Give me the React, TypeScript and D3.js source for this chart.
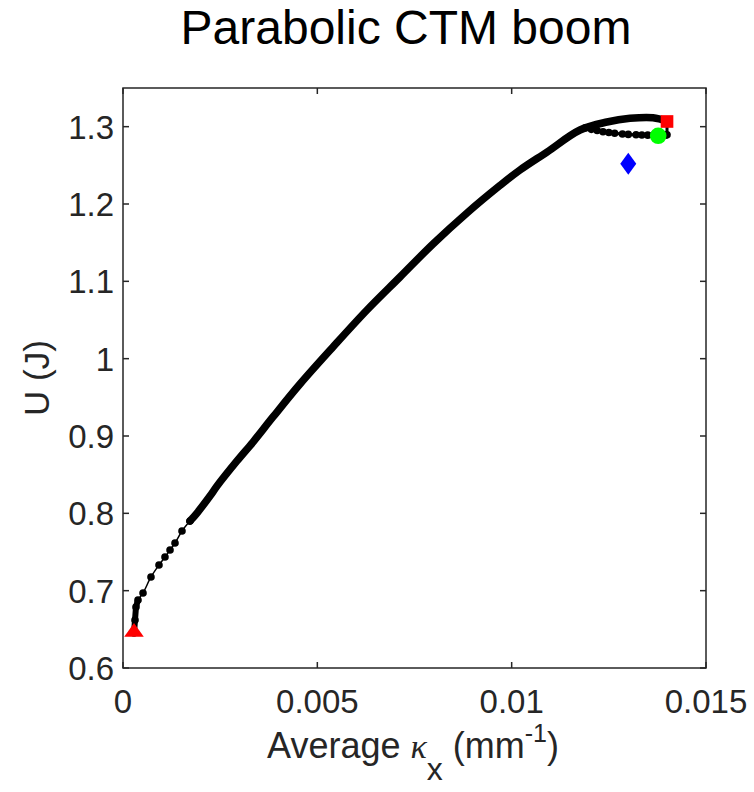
import React from "react";
import * as d3 from "d3";

// Loading path: average curvature kx (1/mm) vs strain energy U (J)
const kxPath = [0.000283, 0.000309, 0.000334, 0.000386, 0.000515, 0.00072, 0.000926, 0.00108, 0.00121, 0.001338, 0.001518, 0.001724, 0.001904, 0.002238, 0.002419, 0.002933, 0.003345, 0.003859, 0.004554, 0.005403, 0.006278, 0.007127, 0.007976, 0.008851, 0.0097, 0.010214, 0.010909, 0.011758, 0.012453, 0.013045, 0.013636, 0.013997];
const UPath = [0.6453, 0.662, 0.6789, 0.688, 0.697, 0.7177, 0.7332, 0.7435, 0.7526, 0.7616, 0.7772, 0.790, 0.8004, 0.8224, 0.8353, 0.8677, 0.8922, 0.9246, 0.9672, 1.0151, 1.0629, 1.1056, 1.1483, 1.1884, 1.2240, 1.2440, 1.2672, 1.2957, 1.3060, 1.3108, 1.3116, 1.3073];

// Return branch (lower) after the peak
const kxReturn = [0.013997, 0.013997, 0.01396, 0.01385, 0.01365, 0.01350, 0.01335, 0.01320, 0.01300, 0.01285, 0.01265, 0.01250, 0.01235, 0.01220, 0.01205, 0.01190];
const UReturn = [1.3073, 1.2895, 1.2890, 1.2888, 1.2890, 1.2890, 1.2893, 1.2895, 1.2900, 1.2905, 1.2915, 1.2925, 1.2935, 1.2950, 1.2965, 1.2985];

// Special points
const startPoint = [0.000283, 0.645];  // red triangle
const peakPoint = [0.013997, 1.3067];  // red square
const circlePoint = [0.01377, 1.2882]; // green circle
const diamondPoint = [0.0130, 1.252];  // blue diamond

const xTicks = [0, 0.005, 0.01, 0.015];
const xTickLabels = ["0", "0.005", "0.01", "0.015"];
const yTicks = [0.6, 0.7, 0.8, 0.9, 1.0, 1.1, 1.2, 1.3];
const yTickLabels = ["0.6", "0.7", "0.8", "0.9", "1", "1.1", "1.2", "1.3"];

const W = 754, H = 792;
const L = 123, R = 706, T = 88, B = 668;
const axisColor = "#262626";
const font = "'Liberation Sans', Arial, Helvetica, sans-serif";

export default function App() {
  const x = d3.scaleLinear().domain([0, 0.015]).range([L, R]);
  const y = d3.scaleLinear().domain([0.6, 1.35]).range([B, T]);

  const path = kxPath.map((k, i) => [k, UPath[i]] as [number, number]);
  const ret = kxReturn.map((k, i) => [k, UReturn[i]] as [number, number]);
  const denseStart = kxPath.findIndex((k) => k >= 0.0017);
  const dense = path.slice(denseStart);
  const sparse = path.slice(0, denseStart + 1);
  const nearStart = path.slice(0, 4);

  const smooth = d3.line<[number, number]>().x((d) => x(d[0])).y((d) => y(d[1])).curve(d3.curveCatmullRom.alpha(0.5));
  const linLine = d3.line<[number, number]>().x((d) => x(d[0])).y((d) => y(d[1]));

  const tri = d3.symbol().type(d3.symbolTriangle).size(150)();
  const sq = d3.symbol().type(d3.symbolSquare).size(160)();

  const tickLen = 6;

  return (
    <svg width={W} height={H} style={{ position: "absolute", left: 0, top: 0, background: "#fff" }} fontFamily={font}>
      <rect x={0} y={0} width={W} height={H} fill="#fff" />
      <text x={406} y={44} textAnchor="middle" fontSize={48} fill="#000">Parabolic CTM boom</text>

      {/* data */}
      <g>
        <path d={smooth(sparse) || ""} fill="none" stroke="#000" strokeWidth={1.5} />
        <path d={smooth(dense) || ""} fill="none" stroke="#000" strokeWidth={7.5} strokeLinecap="round" strokeLinejoin="round" />
        <path d={linLine(nearStart) || ""} fill="none" stroke="#000" strokeWidth={6} strokeLinecap="round" />
        {sparse.map((d, i) => (
          <circle key={"p" + i} cx={x(d[0])} cy={y(d[1])} r={3.8} fill="#000" />
        ))}
        <path d={linLine(ret) || ""} fill="none" stroke="#000" strokeWidth={3} />
        {ret.map((d, i) => (
          <circle key={"r" + i} cx={x(d[0])} cy={y(d[1])} r={3.8} fill="#000" />
        ))}
      </g>

      {/* markers */}
      <path d={tri || ""} transform={`translate(${x(startPoint[0])},${y(startPoint[1]) - 1}) scale(1.05,0.85)`} fill="#ff0000" />
      <path d={sq || ""} transform={`translate(${x(peakPoint[0])},${y(peakPoint[1])})`} fill="#ff0000" />
      <circle cx={x(circlePoint[0])} cy={y(circlePoint[1])} r={8.3} fill="#00ff00" />
      <path
        d={`M0,-11 L8,0 L0,11 L-8,0 Z`}
        transform={`translate(${x(diamondPoint[0])},${y(diamondPoint[1])})`}
        fill="#0000ff"
      />

      {/* axes box */}
      <rect x={L} y={T} width={R - L} height={B - T} fill="none" stroke={axisColor} strokeWidth={1.5} />
      {xTicks.map((t, i) => (
        <g key={"xt" + i}>
          <line x1={x(t)} x2={x(t)} y1={B} y2={B - tickLen} stroke={axisColor} strokeWidth={1.5} />
          <line x1={x(t)} x2={x(t)} y1={T} y2={T + tickLen} stroke={axisColor} strokeWidth={1.5} />
          <text x={x(t)} y={713} textAnchor="middle" fontSize={33} fill={axisColor}>{xTickLabels[i]}</text>
        </g>
      ))}
      {yTicks.map((t, i) => (
        <g key={"yt" + i}>
          <line x1={L} x2={L + tickLen} y1={y(t)} y2={y(t)} stroke={axisColor} strokeWidth={1.5} />
          <line x1={R} x2={R - tickLen} y1={y(t)} y2={y(t)} stroke={axisColor} strokeWidth={1.5} />
          <text x={114} y={y(t) + 12} textAnchor="end" fontSize={33} fill={axisColor}>{yTickLabels[i]}</text>
        </g>
      ))}

      {/* axis labels */}
      <text x={413} y={758} textAnchor="middle" fontSize={36} fill={axisColor}>
        Average <tspan fontStyle="italic" fontFamily="'Liberation Serif', serif" fontSize={34}>κ</tspan>
        <tspan dy={22} fontSize={32}>x</tspan>
        <tspan dy={-22}> (mm</tspan>
        <tspan dy={-16} fontSize={25}>-1</tspan>
        <tspan dy={16}>)</tspan>
      </text>
      <text transform={`translate(49,${(T + B) / 2}) rotate(-90)`} textAnchor="middle" fontSize={35} fill={axisColor}>U (J)</text>
    </svg>
  );
}
